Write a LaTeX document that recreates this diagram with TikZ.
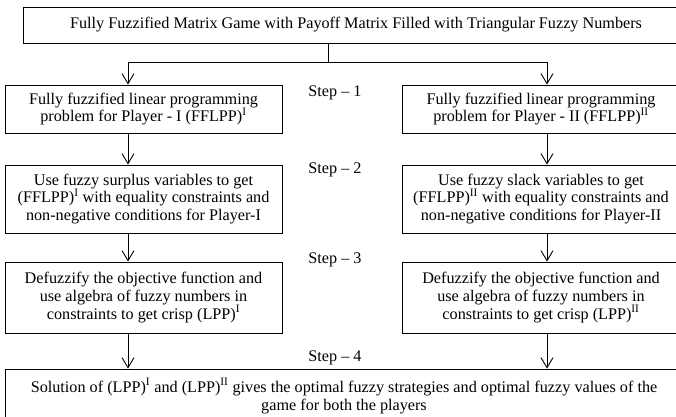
\documentclass[tikz,border=0pt]{standalone}
\usepackage{fontspec}
\setmainfont{Liberation Serif}
\usetikzlibrary{arrows.meta}
\tikzset{
  box/.style={draw, line width=0.9pt, rectangle, align=center, inner sep=0pt,
              font=\fontsize{16.2}{17.8}\selectfont},
  steplabel/.style={font=\fontsize{16.2}{17.8}\selectfont, inner sep=0pt},
  arr/.style={line width=0.9pt, -{Straight Barb[length=10pt,width=12pt,line width=0.9pt]}},
  link/.style={line width=0.9pt}
}
\newcommand{\supI}{\textsuperscript{I}}
\newcommand{\supII}{\textsuperscript{II}}
\begin{document}
\begin{tikzpicture}[x=1pt,y=-1pt]
\useasboundingbox (0,0) rectangle (676,416);
\fill[white] (0,0) rectangle (676,416);

% boxes
\node[box, minimum width=666pt, minimum height=36pt] (top) at (356,25)
  {Fully Fuzzified Matrix Game with Payoff Matrix Filled with Triangular Fuzzy Numbers};

\node[box, minimum width=277pt, minimum height=48pt] (L1) at (143.5,109)
  {Fully fuzzified linear programming\\problem for Player - I (FFLPP)\supI};
\node[box, minimum width=278pt, minimum height=48pt] (R1) at (541,109)
  {Fully fuzzified linear programming\\problem for Player - II (FFLPP)\supII};

\node[box, minimum width=277pt, minimum height=68pt] (L2) at (143.5,199)
  {Use fuzzy surplus variables to get\\(FFLPP)\supI{} with equality constraints and\\non-negative conditions for Player-I};
\node[box, minimum width=278pt, minimum height=68pt] (R2) at (541,199)
  {Use fuzzy slack variables to get\\(FFLPP)\supII{} with equality constraints and\\non-negative conditions for Player-II};

\node[box, minimum width=277pt, minimum height=71pt] (L3) at (143.5,297.5)
  {Defuzzify the objective function and\\use algebra of fuzzy numbers in\\constraints to get crisp (LPP)\supI};
\node[box, minimum width=278pt, minimum height=71pt] (R3) at (541,297.5)
  {Defuzzify the objective function and\\use algebra of fuzzy numbers in\\constraints to get crisp (LPP)\supII};

\node[box, minimum width=678pt, minimum height=54pt] (bot) at (344,396)
  {Solution of (LPP)\supI{} and (LPP)\supII{} gives the optimal fuzzy strategies and optimal fuzzy values of the\\game for both the players};

% step labels
\node[steplabel] (s1) at (335,93) {Step – 1};
\node[steplabel] (s2) at (335,170) {Step – 2};
\node[steplabel] (s3) at (335,260) {Step – 3};
\node[steplabel] (s4) at (335,358) {Step – 4};

% connector guides
\coordinate (mx) at (328,0);
\coordinate (lx) at (128,0);
\coordinate (rx) at (547,0);
\coordinate (br) at (0,62);

\draw[arr] (top.south -| mx) -- (mx |- br) -| (L1.north -| lx);
\draw[arr] (mx |- br) -| (R1.north -| rx);

\draw[arr] (L1.south -| lx) -- (L2.north -| lx);
\draw[arr] (R1.south -| rx) -- (R2.north -| rx);
\draw[arr] (L2.south -| lx) -- (L3.north -| lx);
\draw[arr] (R2.south -| rx) -- (R3.north -| rx);
\draw[arr] (L3.south -| lx) -- (bot.north -| lx);
\draw[arr] (R3.south -| rx) -- (bot.north -| rx);
\end{tikzpicture}
\end{document}
